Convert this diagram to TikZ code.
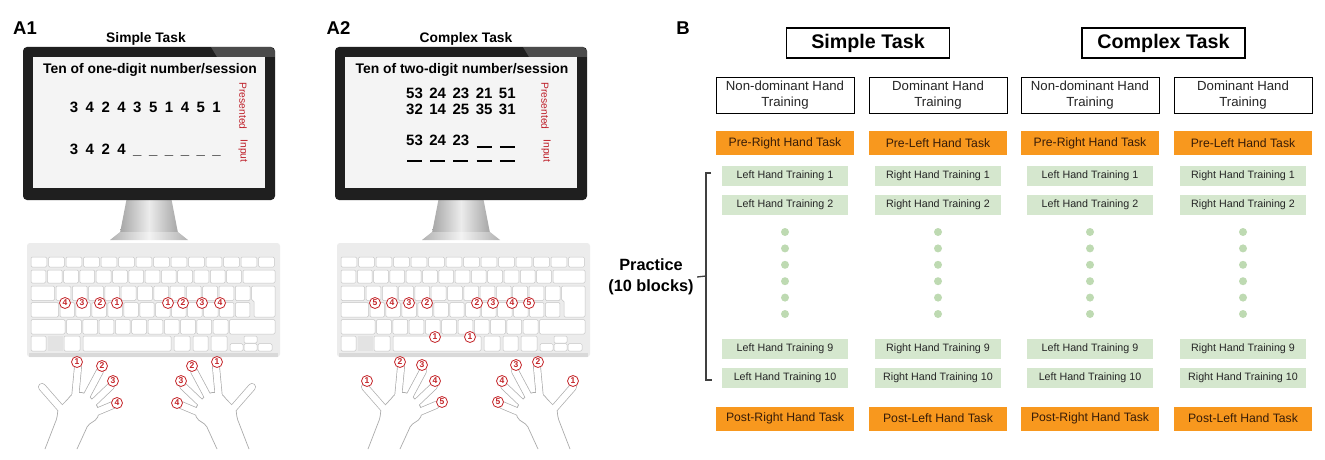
\documentclass[tikz,border=0pt]{standalone}
\usepackage{fontspec}
\setmainfont{Liberation Sans}

\definecolor{taskorange}{RGB}{248,152,30}
\definecolor{orangetext}{RGB}{55,28,8}
\definecolor{traingreen}{RGB}{213,231,206}
\definecolor{dotgreen}{RGB}{190,218,178}
\definecolor{fingerred}{RGB}{196,36,40}
\definecolor{sidered}{RGB}{190,30,40}
\definecolor{screenbg}{RGB}{244,244,244}
\definecolor{kbbody}{RGB}{236,236,236}

\tikzset{
  panel/.style={font=\fontsize{18.5}{20}\selectfont\bfseries, anchor=base},
  monhead/.style={font=\fontsize{13.8}{15}\selectfont\bfseries, anchor=base},
  scrhead/.style={font=\fontsize{13.9}{15}\selectfont\bfseries, anchor=base},
  digit/.style={font=\fontsize{15}{16}\selectfont\bfseries, anchor=base, inner sep=0pt},
  side/.style={font=\fontsize{10.3}{11}\selectfont, text=sidered, rotate=-90, inner sep=0pt},
  key/.style={fill=white, draw=gray!45, line width=0.5pt, rounded corners=1.2pt},
  fingnum/.style={circle, draw=fingerred, fill=white, text=fingerred, line width=0.8pt,
    inner sep=0pt, minimum size=11pt, font=\fontsize{8.5}{9}\selectfont\bfseries},
  fingerline/.style={draw=gray!65, line width=7.8pt, line cap=round},
  fingerfill/.style={draw=white, line width=6.4pt, line cap=round},
  palm/.style={fill=white, draw=gray!65, line width=0.7pt, rounded corners=2pt},
  blank/.style={line width=1.6pt},
  title/.style={draw, line width=1.6pt, minimum width=163pt, minimum height=30pt, inner sep=0pt,
    font=\fontsize{19.7}{21}\selectfont\bfseries},
  handbox/.style={draw, line width=0.9pt, minimum width=138pt, minimum height=36pt, inner sep=0pt,
    align=center, text=black!85, font=\fontsize{13.2}{16}\selectfont},
  testbox/.style={fill=taskorange, minimum width=138pt, minimum height=24pt, inner sep=0pt,
    text=orangetext, font=\fontsize{12.2}{13}\selectfont},
  trainbox/.style={fill=traingreen, minimum width=126pt, minimum height=19.5pt, inner sep=0pt,
    text=black!85, font=\fontsize{10.7}{12}\selectfont},
  bracket/.style={draw=black!75, line width=1.3pt},
  monitor/.pic={
    \shade[left color=gray!70, right color=gray!70, middle color=gray!15]
      (104,150) -- (148,150) -- (155,186) -- (97,186) -- cycle;
    \shade[left color=gray!60, right color=gray!60, middle color=gray!10]
      (97,185) -- (155,185) -- (165,193) -- (87,193) -- cycle;
    \fill[black!88, rounded corners=4pt] (0,0) rectangle (252,153);
    \fill[white, opacity=0.2] (188,0) -- (248,0) -- (252,4) -- (252,10) -- (194,10) -- cycle;
    \fill[screenbg] (10,10) rectangle (242,141);
  },
  keyboard/.pic={
    \fill[kbbody, rounded corners=3pt] (0,0) rectangle (253,114);
    \fill[gray!30] (2,110) rectangle (251,114);
    \foreach \i in {0,...,13} \draw[key] (4+\i*17.5,14) rectangle ++(15.8,10);
    \foreach \i in {0,...,12} \draw[key] (4+\i*16.3,27) rectangle ++(14.8,13);
    \draw[key] (216,27) rectangle (248,40);
    \draw[key] (4,43) rectangle (27.5,57.5);
    \foreach \i in {0,...,11} \draw[key] (29+\i*16.3,43) rectangle ++(14.8,14.5);
    \draw[key] (224.6,43) -- (248,43) -- (248,74) -- (227,74) -- (227,57.5) -- (224.6,57.5) -- cycle;
    \draw[key] (4,59.5) rectangle (31.5,74);
    \foreach \i in {0,...,11} \draw[key] (33+\i*15.95,59.5) rectangle ++(14.45,14.5);
    \draw[key] (4,76.5) rectangle (38,91);
    \foreach \i in {0,...,9} \draw[key] (39.5+\i*16.3,76.5) rectangle ++(14.8,14.5);
    \draw[key] (202.5,76.5) rectangle (248,91);
    \fill[gray!22] (20.5,93) rectangle (36,108);
    \foreach \a/\b in {4/19, 37/53, 56/144, 147/163, 166/181, 184/200}
      \draw[key] (\a,93) rectangle (\b,108);
    \draw[key] (217,93) rectangle (230,100);
    \foreach \a/\b in {203/216, 217/230, 231/245}
      \draw[key] (\a,100.7) rectangle (\b,108);
  },
  hand/.pic={
    \foreach \bx/\by/\tx/\ty in {-2/-36/-23/-60, 10/-48/13/-80, 20/-48/35/-76, 26/-42/46/-61, 29/-34/48/-42}
      \draw[fingerline] (\bx,\by) -- (\tx,\ty);
    \filldraw[palm] (-20,2) -- (-8,-29) -- (-7,-38) -- (2,-47) -- (7,-53) -- (15,-55) -- (22,-53)
      -- (27,-48) -- (32,-42) -- (34,-34) -- (32,-28) -- (23,-22) -- (12,2);
    \foreach \bx/\by/\tx/\ty in {-2/-36/-23/-60, 10/-48/13/-80, 20/-48/35/-76, 26/-42/46/-61, 29/-34/48/-42}
      \draw[fingerfill] (\bx,\by) -- (\tx,\ty);
  }
}

\begin{document}
\begin{tikzpicture}[x=1pt, y=-1pt]
  \fill[white] (0,0) rectangle (1325,460);
  \useasboundingbox (0,0) rectangle (1325,460);

  % A1 and A2
  \node[panel] (a1) at (25,35) {A1};
  \node[panel] (a2) at (338.5,35) {A2};
  \node[monhead] (simplehead) at (146,43) {Simple Task};
  \node[monhead] (complexhead) at (466,43) {Complex Task};
  \pic at (23,47) {monitor};
  \pic at (335,47) {monitor};
  \pic at (27,243) {keyboard};
  \pic at (337,243) {keyboard};

  \node[scrhead] (scr1) at (150,74) {Ten of one-digit number/session};
  \node[scrhead] (scr2) at (462,74) {Ten of two-digit number/session};
  \foreach \d [count=\i from 0] in {3,4,2,4,3,5,1,4,5,1}
    \node[digit] (pa\i) at (74+15.85*\i,112) {\d};
  \foreach \d [count=\i from 0] in {3,4,2,4,\_,\_,\_,\_,\_,\_}
    \node[digit] (ia\i) at (74+15.85*\i,154) {\d};
  \foreach \d [count=\i from 0] in {53,24,23,21,51}
    \node[digit] (pb\i) at (414.5+23.2*\i,98) {\d};
  \foreach \d [count=\i from 0] in {32,14,25,35,31}
    \node[digit] (qb\i) at (414.5+23.2*\i,114) {\d};
  \foreach \d [count=\i from 0] in {53,24,23}
    \node[digit] (ib\i) at (414.5+23.2*\i,145) {\d};
  \foreach \i in {3,4}
    \draw[blank] (407+23.2*\i,147) -- ++(15,0);
  \foreach \i in {0,...,4}
    \draw[blank] (407+23.2*\i,161) -- ++(15,0);
  \node[side] (pres1) at (243,106) {Presented};
  \node[side] (inp1) at (243,151) {Input};
  \node[side] (pres2) at (545,106) {Presented};
  \node[side] (inp2) at (546,151) {Input};

  \pic at (65,447) {hand};
  \pic[xscale=-1] at (229,447) {hand};
  \pic at (388,447) {hand};
  \pic[xscale=-1] at (550,447) {hand};

  \foreach \x/\n [count=\i] in {65/4, 82/3, 100/2, 117/1, 168/1, 183/2, 202/3, 220/4}
    \node[fingnum] (ka\i) at (\x,303) {\n};
  \foreach \x/\n [count=\i] in {375/5, 392/4, 409/3, 427/2, 477/2, 493/3, 512/4, 529/5}
    \node[fingnum] (kb\i) at (\x,303) {\n};
  \node[fingnum] (kbl) at (435,337) {1};
  \node[fingnum] (kbr) at (470,337) {1};
  \foreach \x/\y/\n [count=\i] in {77/362/1, 102/366/2, 113/381/3, 117/403/4,
      217/362/1, 192/366/2, 181/381/3, 177/403/4}
    \node[fingnum] (fa\i) at (\x,\y) {\n};
  \foreach \x/\y/\n [count=\i] in {367/381/1, 400/362/2, 422/365/3, 435/381/4, 442/402/5,
      573/381/1, 538/362/2, 516/365/3, 502/381/4, 498/402/5}
    \node[fingnum] (fb\i) at (\x,\y) {\n};

  % B
  \node[panel] (b) at (683,35) {B};
  \node[title] (simple) at (868,43) {Simple Task};
  \node[title] (complex) at (1163.5,43) {Complex Task};
  \foreach \i/\x/\hd/\trn/\tst in {1/785/Non-dominant/Left/Right, 2/938/Dominant/Right/Left,
      3/1090/Non-dominant/Left/Right, 4/1243/Dominant/Right/Left}{
    \node[handbox] (hd\i) at (\x,95) {\hd\ Hand\\Training};
    \node[testbox] (pre\i) at (\x,143) {Pre-\tst\ Hand Task};
    \node[trainbox] (tra\i) at (\x,176) {\trn\ Hand Training 1};
    \node[trainbox] (trb\i) at (\x,205) {\trn\ Hand Training 2};
    \foreach \k in {0,...,5} \fill[dotgreen] (\x,232+\k*16.4) circle (4pt);
    \node[trainbox] (trc\i) at (\x,349) {\trn\ Hand Training 9};
    \node[trainbox] (trd\i) at (\x,378) {\trn\ Hand Training 10};
    \node[testbox] (post\i) at (\x,418.5) {Post-\tst\ Hand Task};
  }
  \node[font=\fontsize{16.3}{20.5}\selectfont\bfseries, align=center] (prac) at (651,277) {Practice\\(10 blocks)};
  \coordinate (brtop) at (711,173);
  \coordinate (brbot) at (712,380);
  \coordinate (brmid) at (706,276);
  \draw[bracket] (brtop) -- (706,173) |- (brbot);
  \draw[bracket] (brmid) -- (prac.east);
\end{tikzpicture}
\end{document}
